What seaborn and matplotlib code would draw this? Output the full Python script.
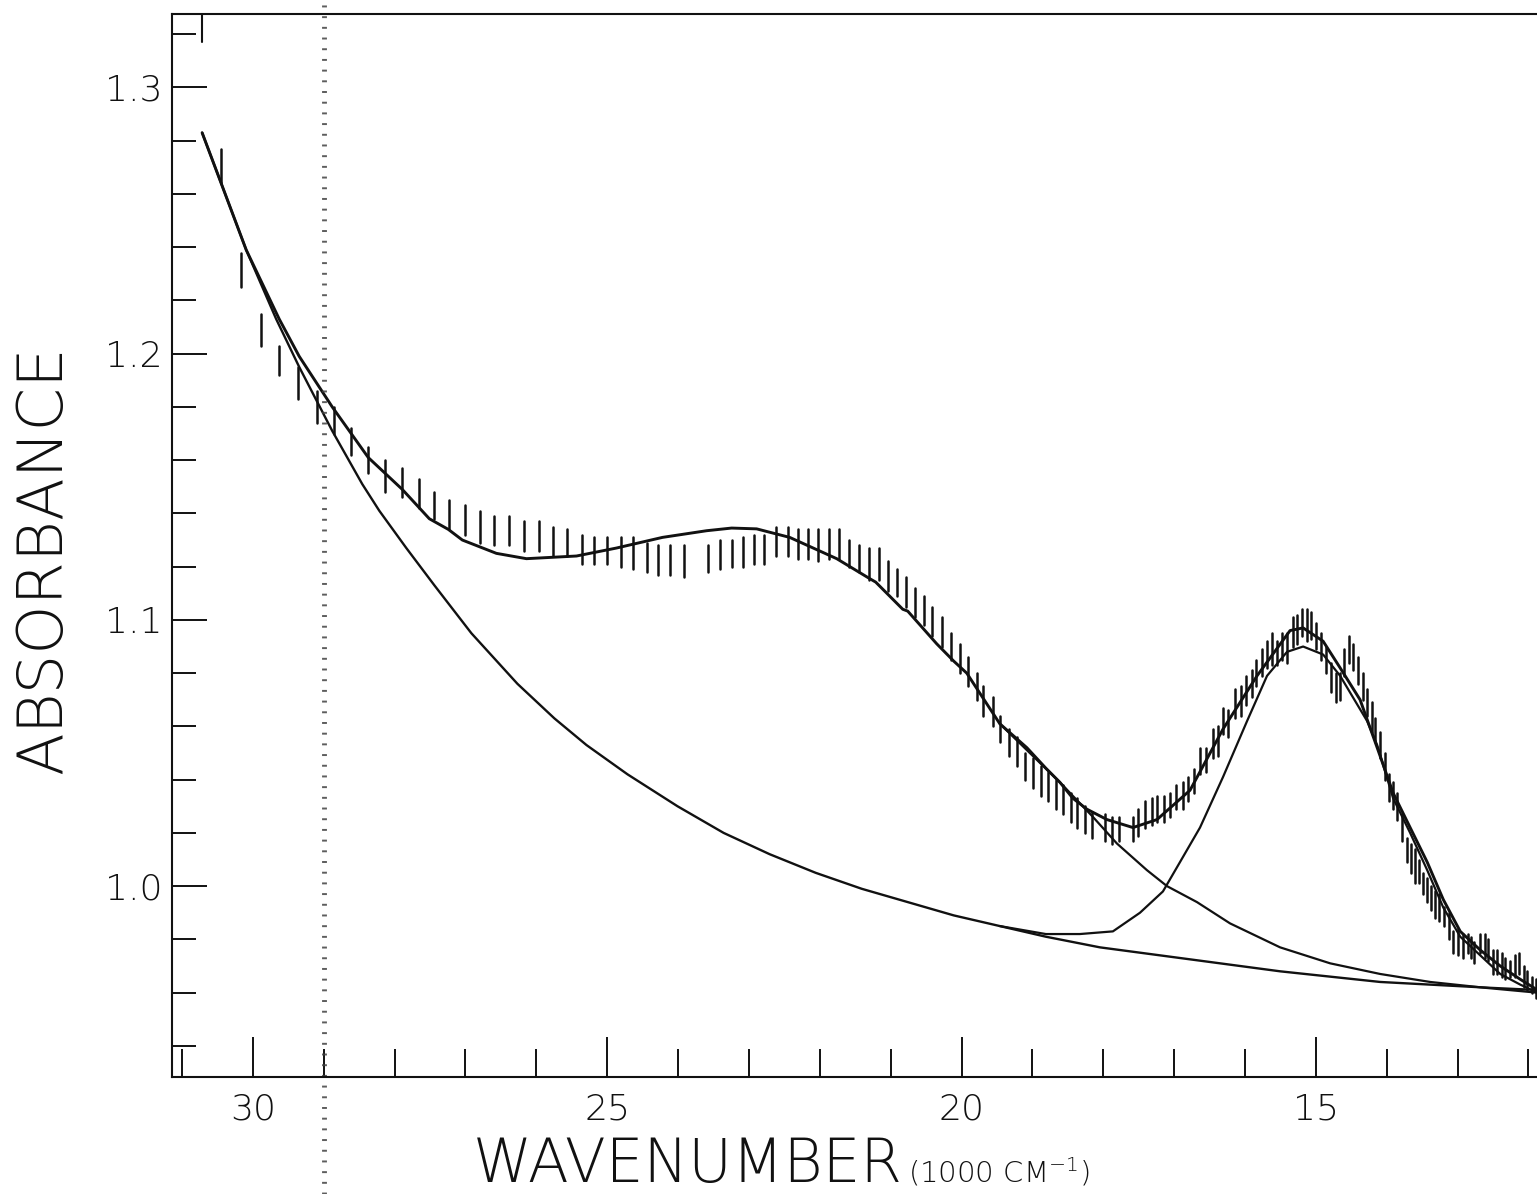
import numpy as np
import pandas as pd
import matplotlib
matplotlib.use("Agg")
import matplotlib.pyplot as plt
import seaborn as sns

# ---------------- data (wavenumber in 1000 cm^-1, absorbance) ----------------
total_x = [30.715, 30.446, 30.093, 29.627, 29.345, 28.879, 28.371, 27.890, 27.509, 27.241,
           27.043, 26.563, 26.139, 25.433, 24.868, 24.219, 23.597, 23.244,
           22.891, 22.425, 21.761, 21.295, 21.211, 20.829, 20.759, 20.349, 20.109, 19.926,
           19.460, 19.078, 18.810, 18.612, 18.429, 18.231, 17.948, 17.581, 17.242, 16.776,
           16.310, 15.830, 15.364, 15.180, 14.898, 14.658, 14.376, 14.135, 13.910, 13.670,
           13.429, 13.203, 12.963, 12.681, 12.399, 12.116, 11.876]
total_y = [1.283, 1.264, 1.239, 1.213, 1.199, 1.180, 1.161, 1.149, 1.138, 1.134,
           1.130, 1.125, 1.123, 1.124, 1.127, 1.131, 1.1335, 1.1345,
           1.1342, 1.131, 1.123, 1.1155, 1.1142, 1.104, 1.1033, 1.091, 1.0845, 1.080,
           1.061, 1.052, 1.0443, 1.039, 1.033, 1.0289, 1.025, 1.022, 1.025, 1.036,
           1.059, 1.079, 1.096, 1.097, 1.092, 1.082, 1.070, 1.052, 1.035, 1.022,
           1.009, 0.995, 0.983, 0.976, 0.970, 0.965, 0.961]

bg_x = [30.715, 30.446, 30.093, 29.670, 29.345, 28.879, 28.455, 28.215, 27.834, 27.438,
        26.916, 26.266, 25.744, 25.292, 24.713, 24.007, 23.357, 22.708, 22.058, 21.408,
        20.759, 20.109, 19.460, 18.810, 18.047, 16.918, 15.505, 14.093, 12.681, 11.876]
bg_y = [1.283, 1.264, 1.239, 1.213, 1.195, 1.171, 1.151, 1.141, 1.127, 1.113,
        1.095, 1.076, 1.063, 1.053, 1.042, 1.030, 1.020, 1.012, 1.005, 0.999,
        0.994, 0.989, 0.985, 0.981, 0.977, 0.973, 0.968, 0.964, 0.962, 0.960]

band1_x = [19.460, 18.612, 18.146, 17.807, 17.384, 17.101, 16.678, 16.211, 15.505, 14.799,
           14.093, 13.387, 12.681, 11.876]
band1_y = [1.061, 1.039, 1.026, 1.016, 1.006, 1.000, 0.994, 0.986, 0.977, 0.971,
           0.967, 0.964, 0.962, 0.961]

band2_x = [19.460, 18.810, 18.330, 17.864, 17.482, 17.158, 16.918, 16.635, 16.310, 15.971,
           15.689, 15.407, 15.180, 14.898, 14.658, 14.277, 14.135, 13.910, 13.670, 13.429,
           13.203, 12.963, 12.681, 12.399, 12.116, 11.876]
band2_y = [0.985, 0.982, 0.982, 0.983, 0.990, 0.998, 1.009, 1.022, 1.041, 1.062,
           1.079, 1.088, 1.090, 1.087, 1.079, 1.062, 1.053, 1.033, 1.020, 1.006,
           0.992, 0.981, 0.974, 0.967, 0.963, 0.960]

# measured points shown as vertical error bars
meas_x = [30.45, 30.16, 29.88, 29.63, 29.36, 29.10, 28.86, 28.61, 28.38, 28.14,
          27.90, 27.66, 27.45, 27.23, 27.01, 26.80, 26.59, 26.38, 26.17, 25.96,
          25.76, 25.57, 25.36, 25.19, 25.00, 24.81, 24.63, 24.44, 24.28, 24.11,
          23.91, 23.58, 23.41, 23.24, 23.09, 22.93, 22.78, 22.62, 22.45, 22.31,
          22.16, 22.03, 21.87, 21.73, 21.59, 21.45, 21.31, 21.17, 21.04, 20.91,
          20.79, 20.65, 20.53, 20.41, 20.28, 20.15, 20.02, 19.91, 19.78, 19.69,
          19.56, 19.45, 19.33, 19.22, 19.11, 18.99, 18.88, 18.78, 18.67, 18.57,
          18.46, 18.37, 18.26, 18.16, 17.98, 17.88, 17.78, 17.58, 17.51, 17.41,
          17.31, 17.24, 17.14, 17.06, 16.97, 16.88, 16.80, 16.72, 16.64, 16.55,
          16.45, 16.38, 16.31, 16.24, 16.14, 16.06, 15.99, 15.90, 15.84, 15.76,
          15.69, 15.62, 15.55, 15.48, 15.41, 15.32, 15.27, 15.19, 15.12, 15.07,
          15.00, 14.93, 14.86, 14.79, 14.71, 14.66, 14.60, 14.53, 14.47, 14.40,
          14.33, 14.28, 14.21, 14.16, 14.09, 14.02, 13.97, 13.91, 13.85, 13.78,
          13.71, 13.66, 13.60, 13.54, 13.49, 13.43, 13.37, 13.32, 13.26, 13.19,
          13.12, 13.06, 12.99, 12.92, 12.86, 12.81, 12.77, 12.68, 12.62, 12.57,
          12.50, 12.44, 12.38, 12.33, 12.26, 12.19, 12.14, 12.07, 12.02, 11.95,
          11.90]
meas_hi = [1.277, 1.238, 1.215, 1.203, 1.195, 1.186, 1.180, 1.172, 1.165, 1.160,
           1.157, 1.153, 1.148, 1.145, 1.143, 1.141, 1.139, 1.139, 1.137, 1.137,
           1.135, 1.134, 1.132, 1.131, 1.131, 1.131, 1.131, 1.129, 1.128, 1.128,
           1.128, 1.128, 1.130, 1.130, 1.131, 1.132, 1.132, 1.135, 1.135, 1.134,
           1.134, 1.134, 1.134, 1.134, 1.130, 1.128, 1.127, 1.127, 1.122, 1.119,
           1.116, 1.112, 1.109, 1.105, 1.101, 1.095, 1.091, 1.086, 1.080, 1.075,
           1.071, 1.064, 1.059, 1.056, 1.050, 1.048, 1.045, 1.043, 1.040, 1.038,
           1.035, 1.033, 1.030, 1.028, 1.027, 1.026, 1.026, 1.026, 1.029, 1.032,
           1.033, 1.034, 1.034, 1.035, 1.038, 1.039, 1.041, 1.044, 1.052, 1.052,
           1.059, 1.060, 1.067, 1.066, 1.074, 1.075, 1.079, 1.081, 1.085, 1.089,
           1.092, 1.095, 1.092, 1.095, 1.095, 1.101, 1.102, 1.104, 1.104, 1.103,
           1.099, 1.095, 1.090, 1.084, 1.080, 1.080, 1.089, 1.094, 1.091, 1.086,
           1.080, 1.074, 1.069, 1.063, 1.058, 1.050, 1.042, 1.039, 1.035, 1.027,
           1.018, 1.016, 1.014, 1.010, 1.005, 1.003, 1.000, 0.998, 0.997, 0.992,
           0.990, 0.983, 0.984, 0.982, 0.982, 0.981, 0.979, 0.982, 0.982, 0.980,
           0.976, 0.976, 0.975, 0.973, 0.972, 0.974, 0.975, 0.970, 0.968, 0.966,
           0.965]
meas_lo = [1.264, 1.225, 1.203, 1.192, 1.183, 1.174, 1.170, 1.162, 1.155, 1.148,
           1.146, 1.142, 1.138, 1.134, 1.132, 1.129, 1.128, 1.128, 1.126, 1.126,
           1.124, 1.124, 1.121, 1.121, 1.121, 1.120, 1.119, 1.118, 1.117, 1.117,
           1.116, 1.118, 1.119, 1.120, 1.120, 1.121, 1.121, 1.124, 1.124, 1.123,
           1.123, 1.122, 1.123, 1.123, 1.120, 1.118, 1.115, 1.115, 1.111, 1.109,
           1.105, 1.101, 1.098, 1.094, 1.090, 1.085, 1.080, 1.075, 1.070, 1.064,
           1.060, 1.054, 1.049, 1.045, 1.040, 1.037, 1.034, 1.032, 1.029, 1.027,
           1.024, 1.022, 1.020, 1.018, 1.017, 1.016, 1.017, 1.017, 1.019, 1.022,
           1.023, 1.024, 1.024, 1.026, 1.029, 1.029, 1.032, 1.035, 1.042, 1.043,
           1.048, 1.049, 1.057, 1.056, 1.063, 1.064, 1.068, 1.071, 1.075, 1.079,
           1.082, 1.083, 1.083, 1.085, 1.084, 1.090, 1.091, 1.094, 1.092, 1.093,
           1.089, 1.085, 1.080, 1.073, 1.069, 1.070, 1.079, 1.084, 1.081, 1.076,
           1.070, 1.064, 1.058, 1.054, 1.048, 1.040, 1.032, 1.029, 1.025, 1.017,
           1.009, 1.005, 1.001, 1.001, 0.997, 0.994, 0.991, 0.988, 0.987, 0.985,
           0.980, 0.975, 0.974, 0.973, 0.975, 0.973, 0.971, 0.975, 0.973, 0.972,
           0.967, 0.967, 0.966, 0.965, 0.966, 0.966, 0.967, 0.962, 0.961, 0.960,
           0.958]

x_major = [30, 25, 20, 15]
x_minor = [31, 29, 28, 27, 26, 24, 23, 22, 21, 19, 18, 17, 16, 14, 13, 12]
y_major = [1.0, 1.1, 1.2, 1.3]
y_minor = [0.94, 0.96, 0.98, 1.02, 1.04, 1.06, 1.08, 1.12, 1.14, 1.16, 1.18,
           1.22, 1.24, 1.26, 1.28, 1.32]
x_title = "WAVENUMBER"
x_unit = "(1000 CM$^{-1}$)"
y_title = "ABSORBANCE"

# ---------------- figure ----------------
sns.set_theme(style="ticks")
plt.rcParams["font.family"] = ["DejaVu Sans"]
plt.rcParams["mathtext.default"] = "regular"

fig = plt.figure(figsize=(15.37, 11.94), dpi=100)
fig.patch.set_facecolor("white")
ax = fig.add_axes([172 / 1537, 117 / 1194, 1365 / 1537, 1063 / 1194])
ax.set_facecolor("white")

ink = "#111111"

# error bars via seaborn (one unit per bar)
bars = pd.DataFrame({
    "wn": np.repeat(meas_x, 2),
    "abs": np.ravel(np.column_stack([meas_lo, meas_hi])),
    "bar": np.repeat(np.arange(len(meas_x)), 2),
})
sns.lineplot(data=bars, x="wn", y="abs", units="bar", estimator=None, sort=False,
             color=ink, lw=1.8, ax=ax, legend=False)

for xs, ys, lw in [(bg_x, bg_y, 1.7), (band1_x, band1_y, 1.6),
                   (band2_x, band2_y, 1.6), (total_x, total_y, 2.1)]:
    sns.lineplot(x=xs, y=ys, sort=False, estimator=None, color=ink, lw=lw, ax=ax)

# scan start marker at the top edge
ax.axvline(total_x[0], ymin=1 - 28 / 1063, ymax=1, color=ink, lw=1.5)
# speckled fold of the scanned page near 29
ax.axvline(29.0, ymin=-0.11, ymax=1.02, clip_on=False, color="0.25",
           lw=3.5, ls=(0, (0.4, 1.8)), alpha=0.85)

ax.set_xlim(31.14, 11.88)
ax.set_ylim(0.9283, 1.3276)

ax.set_xticks(x_major)
ax.set_xticks(x_minor, minor=True)
ax.set_xticklabels([str(v) for v in x_major])
ax.set_yticks(y_major)
ax.set_yticks(y_minor, minor=True)
ax.set_yticklabels([f"{v:.1f}" for v in y_major])

ax.tick_params(axis="x", which="major", direction="in", length=29, width=1.4,
               labelsize=26, pad=11, colors=ink)
ax.tick_params(axis="x", which="minor", direction="in", length=20, width=1.4, colors=ink)
ax.tick_params(axis="y", which="major", direction="in", length=25, width=1.4,
               labelsize=26, pad=7, colors=ink)
ax.tick_params(axis="y", which="minor", direction="in", length=17, width=1.4, colors=ink)
for lab in ax.get_xticklabels() + ax.get_yticklabels():
    lab.set_fontweight("light")

for side in ["left", "bottom", "top"]:
    ax.spines[side].set_color(ink)
    ax.spines[side].set_linewidth(1.5)
ax.spines["right"].set_visible(False)

ax.set_xlabel(x_title, fontsize=43, fontweight="light", color=ink, va="baseline")
ax.xaxis.set_label_coords((688 - 172) / 1365, -(1182 - 1077) / 1063)
ax.set_ylabel(y_title, fontsize=45, fontweight="light", color=ink, va="center", ha="center")
ax.yaxis.set_label_coords((44 - 172) / 1365, (1077 - 560) / 1063)
ax.text((908 - 172) / 1365, -(1182 - 1077) / 1063, x_unit, transform=ax.transAxes,
        fontsize=21, fontweight="light", color=ink, ha="left", va="baseline")

fig.savefig("out.png", dpi=100, facecolor="white")
